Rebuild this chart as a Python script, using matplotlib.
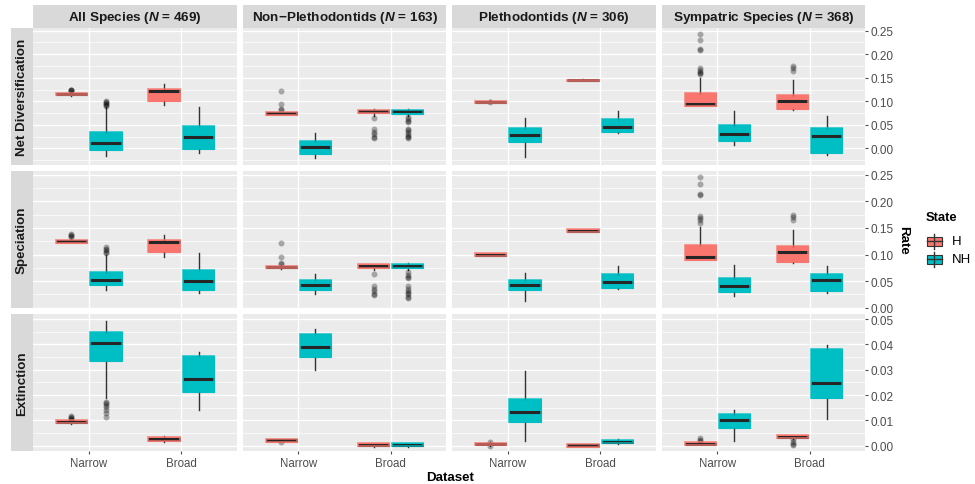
import matplotlib
matplotlib.use("Agg")
import matplotlib.pyplot as plt
from matplotlib.patches import Rectangle

plt.rcParams["font.family"] = ["Liberation Sans", "DejaVu Sans"]
plt.rcParams["mathtext.fontset"] = "custom"
plt.rcParams["mathtext.it"] = "Liberation Sans:bold:italic"
plt.rcParams["mathtext.rm"] = "Liberation Sans:bold"

# ---- data: boxplot summaries ----
# order in every array: for each dataset -> Narrow-H, Narrow-NH, Broad-H, Broad-NH
DATASETS = ["All Species", "Non\u2212Plethodontids", "Plethodontids", "Sympatric Species"]
N_SPECIES = [469, 163, 306, 368]
RATES = ["Net Diversification", "Speciation", "Extinction"]
CATEGORIES = ["Narrow", "Broad"]
STATES = ["H", "NH"]

NET_LO = [0.111, -0.0156, 0.0928, -0.0106, 0.0715, -0.021, 0.069, 0.068,
          0.0955, -0.019, 0.1425, 0.033, 0.089, 0.007, 0.082, -0.0135]
NET_Q1 = [0.113, -0.0035, 0.1006, -0.0014, 0.0718, -0.012, 0.075, 0.074,
          0.0965, 0.0142, 0.143, 0.034, 0.090, 0.0149, 0.0829, -0.0092]
NET_MED = [0.115, 0.0106, 0.121, 0.0248, 0.075, 0.002, 0.0786, 0.0786,
           0.099, 0.029, 0.1445, 0.0446, 0.0949, 0.0305, 0.1013, 0.0269]
NET_Q3 = [0.117, 0.034, 0.1254, 0.0475, 0.0779, 0.0163, 0.0815, 0.082,
          0.101, 0.0425, 0.146, 0.0616, 0.1169, 0.0489, 0.1126, 0.0425]
NET_HI = [0.120, 0.088, 0.136, 0.0878, 0.078, 0.0319, 0.083, 0.084,
          0.102, 0.0644, 0.1465, 0.0786, 0.150, 0.079, 0.145, 0.068]
NET_FLIERS = [[0.122, 0.123, 0.124, 0.125], [0.090, 0.092, 0.094, 0.096, 0.098, 0.100], [], [],
              [0.081, 0.083, 0.094, 0.121], [], [0.064, 0.041, 0.035, 0.030, 0.025, 0.022],
              [0.066, 0.062, 0.058, 0.055, 0.041, 0.038, 0.035, 0.031, 0.027, 0.024, 0.021],
              [0.0985], [], [], [],
              [0.158, 0.160, 0.163, 0.166, 0.171, 0.210, 0.211, 0.231, 0.243], [],
              [0.165, 0.171, 0.174], []]

SPEC_LO = [0.121, 0.034, 0.096, 0.0275, 0.0735, 0.025, 0.071, 0.071,
           0.0965, 0.0125, 0.142, 0.036, 0.089, 0.022, 0.084, 0.027]
SPEC_Q1 = [0.1225, 0.042, 0.104, 0.034, 0.074, 0.0325, 0.0756, 0.075,
           0.097, 0.0325, 0.1425, 0.037, 0.0906, 0.0288, 0.0856, 0.0306]
SPEC_MED = [0.125, 0.0519, 0.123, 0.051, 0.076, 0.0425, 0.079, 0.0785,
            0.100, 0.043, 0.145, 0.0475, 0.095, 0.041, 0.104, 0.052]
SPEC_Q3 = [0.1275, 0.068, 0.127, 0.0706, 0.079, 0.0525, 0.0825, 0.082,
           0.1025, 0.0525, 0.148, 0.0625, 0.118, 0.0556, 0.116, 0.063]
SPEC_HI = [0.129, 0.100, 0.1375, 0.1025, 0.0795, 0.064, 0.083, 0.084,
           0.103, 0.066, 0.1485, 0.079, 0.151, 0.081, 0.146, 0.079]
SPEC_FLIERS = [[0.1325, 0.134, 0.136, 0.139], [0.102, 0.105, 0.108, 0.111, 0.114], [], [],
               [0.082, 0.084, 0.096, 0.122], [], [0.064, 0.040, 0.036, 0.031, 0.026, 0.023],
               [0.067, 0.062, 0.058, 0.055, 0.040, 0.036, 0.032, 0.028, 0.025, 0.021, 0.018],
               [], [], [], [],
               [0.160, 0.164, 0.168, 0.172, 0.212, 0.214, 0.2325, 0.245], [],
               [0.165, 0.171, 0.174], []]

EXT_LO = [0.0087, 0.0188, 0.0015, 0.0142, 0.0015, 0.030, -0.0004, -0.0004,
          0.0, 0.0017, -0.0005, 0.0007, 0.0003, 0.002, 0.0028, 0.0107]
EXT_Q1 = [0.0088, 0.0333, 0.0017, 0.0213, 0.0016, 0.0349, -0.0003, -0.0003,
          0.0001, 0.0092, -0.0004, 0.0009, 0.0004, 0.0070, 0.0029, 0.0189]
EXT_MED = [0.0093, 0.0404, 0.0026, 0.0263, 0.0021, 0.0391, 0.0004, 0.0004,
           0.0007, 0.0134, 0.0001, 0.0016, 0.0008, 0.0100, 0.0036, 0.0247]
EXT_Q3 = [0.0100, 0.0449, 0.00355, 0.0353, 0.0026, 0.0442, 0.0009, 0.0009,
          0.0012, 0.0183, 0.0007, 0.0024, 0.0014, 0.0126, 0.0041, 0.0383]
EXT_HI = [0.0101, 0.0493, 0.0039, 0.037, 0.0027, 0.046, 0.001, 0.001,
          0.0013, 0.0296, 0.0008, 0.0025, 0.0016, 0.0141, 0.0042, 0.0396]
EXT_FLIERS = [[0.0103, 0.0106, 0.0110, 0.0113, 0.0116],
              [0.0112, 0.0130, 0.0142, 0.0154, 0.0162, 0.0168, 0.0174], [], [],
              [0.0013], [], [], [],
              [0.0014, -0.0001], [], [], [],
              [0.0020, 0.0024, 0.0029], [], [0.0001, 0.0008, 0.0016, 0.0025], []]

ROW_DATA = [(NET_LO, NET_Q1, NET_MED, NET_Q3, NET_HI, NET_FLIERS),
            (SPEC_LO, SPEC_Q1, SPEC_MED, SPEC_Q3, SPEC_HI, SPEC_FLIERS),
            (EXT_LO, EXT_Q1, EXT_MED, EXT_Q3, EXT_HI, EXT_FLIERS)]

# ---- style / layout (pixels of a 975x485 canvas) ----
W, H = 975, 485
COLS_X = [(33, 237), (243, 446), (452, 656), (662, 865)]
ROWS_Y = [(29, 166), (172, 309), (315, 452)]
STRIP_TOP = (6, 29)
STRIP_LEFT = (11, 33)
YLIMS = [(-0.0354, 0.2557), (-0.0005, 0.257), (-0.0021, 0.052)]
YTICKS = [[0, 0.05, 0.10, 0.15, 0.20, 0.25], [0, 0.05, 0.10, 0.15, 0.20, 0.25],
          [0, 0.01, 0.02, 0.03, 0.04, 0.05]]
FILL = {"H": "#F8766D", "NH": "#00BFC4"}
PANEL_BG, STRIP_BG = "#EBEBEB", "#D9D9D9"
TICK_C, STRIP_C = "#4D4D4D", "#1A1A1A"
OFFSET, BOXW = 0.185, 0.34


def px_axes(fig, x0, x1, y0, y1):
    return fig.add_axes([x0 / W, 1 - y1 / H, (x1 - x0) / W, (y1 - y0) / H])


def strip(fig, x0, x1, y0, y1):
    sa = px_axes(fig, x0, x1, y0, y1)
    sa.set_facecolor(STRIP_BG)
    sa.set_xticks([]); sa.set_yticks([])
    for s in sa.spines.values():
        s.set_visible(False)
    return sa


fig = plt.figure(figsize=(W / 100, H / 100), dpi=100)

for r, (lo, q1, med, q3, hi, fl) in enumerate(ROW_DATA):
    y0, y1 = ROWS_Y[r]
    for c in range(4):
        x0, x1 = COLS_X[c]
        ax = px_axes(fig, x0, x1, y0, y1)
        ax.set_facecolor(PANEL_BG)
        for s in ax.spines.values():
            s.set_visible(False)
        ax.set_xlim(0.4, 2.6)
        ax.set_ylim(*YLIMS[r])
        ticks = YTICKS[r]
        step = ticks[1] - ticks[0]
        for t in ticks:
            ax.axhline(t, color="white", lw=1.0, zorder=0.5)
        for t in ticks:
            ax.axhline(t - step / 2, color="white", lw=0.5, zorder=0.5)
        for xv in (1, 2):
            ax.axvline(xv, color="white", lw=1.0, zorder=0.5)

        stats, pos, cols = [], [], []
        for k, cat in enumerate(CATEGORIES):
            for j, st in enumerate(STATES):
                i = c * 4 + k * 2 + j
                stats.append(dict(whislo=lo[i], q1=q1[i], med=med[i], q3=q3[i],
                                  whishi=hi[i], fliers=fl[i]))
                pos.append(k + 1 + (OFFSET if st == "NH" else -OFFSET))
                cols.append(FILL[st])
        bp = ax.bxp(stats, positions=pos, widths=BOXW, patch_artist=True, showcaps=False,
                    manage_ticks=False,
                    medianprops=dict(color="#262626", lw=2.2, solid_capstyle="butt"),
                    whiskerprops=dict(color="#333333", lw=1.0),
                    flierprops=dict(marker="o", markersize=4.3, markerfacecolor="black",
                                    markeredgecolor="none", alpha=0.3))
        for patch, col, p, s in zip(bp["boxes"], cols, pos, stats):
            patch.set_facecolor(col)
            patch.set_edgecolor(col)
            patch.set_linewidth(0.8)
            # box outline in the fill colour, drawn over the median as ggplot does
            ax.add_patch(Rectangle((p - BOXW / 2, s["q1"]), BOXW, s["q3"] - s["q1"],
                                   facecolor="none", edgecolor=col, lw=1.3, alpha=0.75,
                                   zorder=3))

        ax.yaxis.tick_right()
        ax.set_yticks(ticks)
        if c == 3:
            ax.set_yticklabels([f"{t:.2f}" for t in ticks])
            ax.tick_params(axis="y", colors=TICK_C, labelsize=8.5, length=2.5, width=0.8,
                           pad=1.5)
        else:
            ax.tick_params(axis="y", length=0, labelright=False)
        ax.set_xticks([1, 2])
        if r == 2:
            ax.set_xticklabels(CATEGORIES)
            ax.tick_params(axis="x", colors=TICK_C, labelsize=8.3, length=2.5, width=0.8,
                           pad=2)
        else:
            ax.tick_params(axis="x", length=0, labelbottom=False)

    sa = strip(fig, STRIP_LEFT[0], STRIP_LEFT[1], y0, y1)
    sa.text(0.5, 0.5, RATES[r], rotation=90, ha="center", va="center", fontsize=9.6,
            fontweight="bold", color=STRIP_C, transform=sa.transAxes)

for c in range(4):
    x0, x1 = COLS_X[c]
    sa = strip(fig, x0, x1, STRIP_TOP[0], STRIP_TOP[1])
    sa.text(0.5, 0.47, f"{DATASETS[c]} ($N$ = {N_SPECIES[c]})", ha="center", va="center",
            fontsize=9.7, fontweight="bold", color=STRIP_C, transform=sa.transAxes)

fig.text(450 / W, 1 - 478 / H, "Dataset", ha="center", va="center", fontsize=9.6,
         fontweight="bold")
fig.text(903 / W, 1 - 240 / H, "Rate", ha="center", va="center", fontsize=9.6,
         fontweight="bold", rotation=270)

# legend drawn in pixel space
la = px_axes(fig, 918, 975, 205, 272)
la.set_xlim(918, 975); la.set_ylim(272, 205); la.axis("off")
la.text(926, 218, "State", ha="left", va="center", fontsize=9.4, fontweight="bold")
for st, yc in zip(STATES, [242, 260]):
    la.plot([934.2, 934.2], [yc - 7.5, yc + 7.5], color="#333333", lw=1.0)
    la.add_patch(Rectangle((927, yc - 4.5), 14.5, 9, facecolor=FILL[st],
                           edgecolor="#333333", lw=0.8))
    la.plot([927, 941.5], [yc, yc], color="#333333", lw=1.0)
    la.text(951.5, yc, st, ha="left", va="center", fontsize=9.5)

fig.savefig("out.png", dpi=100)
